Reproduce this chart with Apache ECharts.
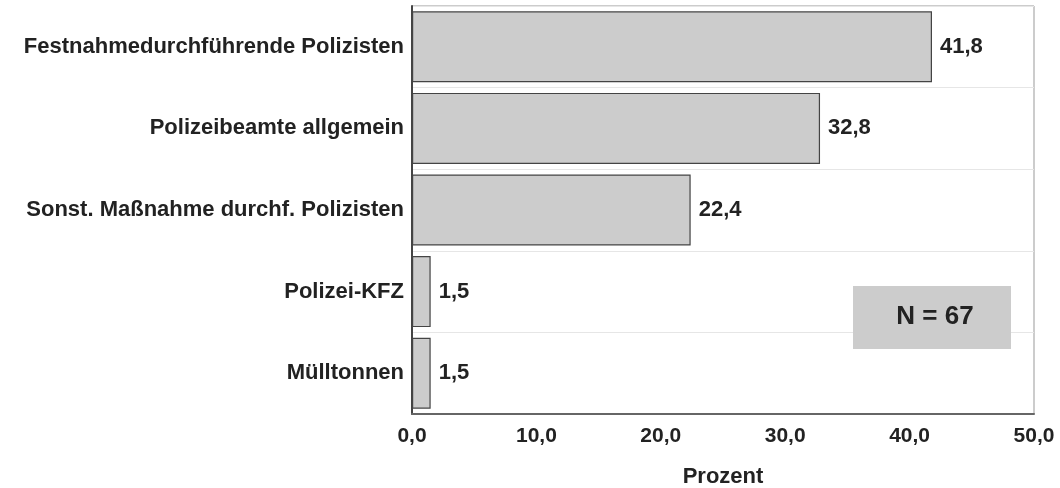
<!DOCTYPE html>
<html><head><meta charset="utf-8">
<script src="https://cdn.jsdelivr.net/npm/echarts@6/dist/echarts.min.js"></script>
<style>html,body{margin:0;padding:0;background:#fff}#c{width:1060px;height:488px}</style>
</head><body><div id="c"></div>
<script>
const categories = ["Festnahmedurchführende Polizisten","Polizeibeamte allgemein","Sonst. Maßnahme durchf. Polizisten","Polizei-KFZ","Mülltonnen"];
const values = [41.8, 32.8, 22.4, 1.5, 1.5];
const axisTitle = "Prozent";
const noteText = "N = 67";
const fmt = v => v.toFixed(1).replace('.', ',');
const chart = echarts.init(document.getElementById('c'));
const F = '"Liberation Sans", Arial, sans-serif';
chart.setOption({
  animation:false,
  grid:{left:412,top:6,right:26,bottom:74,show:true,borderColor:'#999',borderWidth:1,containLabel:false,outerBoundsMode:'none'},
  xAxis:{type:'value',min:0,max:50,interval:10,
    name:axisTitle,nameLocation:'middle',nameGap:52,
    nameTextStyle:{fontFamily:F,fontWeight:'bold',fontSize:22,color:'#222'},
    axisLine:{show:true,lineStyle:{color:'#666',width:2}},axisTick:{show:false},
    splitLine:{show:false},
    axisLabel:{formatter:fmt,fontFamily:F,fontWeight:'bold',fontSize:21,color:'#222',margin:12}},
  yAxis:{type:'category',data:categories,inverse:true,
    axisLine:{show:true,lineStyle:{color:'#444',width:2}},axisTick:{show:false},
    splitLine:{show:true,lineStyle:{color:'#e6e6e6',width:1}},
    axisLabel:{fontFamily:F,fontWeight:'bold',fontSize:22,color:'#222',margin:8}},
  series:[{type:'bar',data:values,barCategoryGap:'13%',
    itemStyle:{color:'#cccccc',borderColor:'#444',borderWidth:1.2},
    label:{show:true,position:'right',distance:8,formatter:p=>fmt(p.value),
      fontFamily:F,fontWeight:'bold',fontSize:22,color:'#222'}}],
  graphic:[{type:'group',left:853,top:286,z:100,children:[
    {type:'rect',z:100,shape:{x:0,y:0,width:158,height:63},style:{fill:'#cccccc'}},
    {type:'text',z:101,x:82,y:31,style:{text:noteText,fill:'#222',font:'bold 26px '+F,align:'center',verticalAlign:'middle'}}
  ]}]
});
</script></body></html>
